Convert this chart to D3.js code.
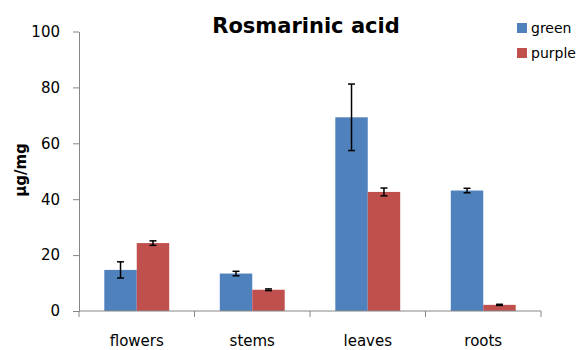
<!DOCTYPE html>
<html>
<head>
<meta charset="utf-8">
<script src="https://cdn.jsdelivr.net/npm/d3@7"></script>
<style>
  body { margin: 0; background: #fff; }
  text { font-family: "DejaVu Sans", Verdana, sans-serif; }
</style>
</head>
<body>
<svg id="chart" width="580" height="350"></svg>
<script>
const categories = ['flowers', 'stems', 'leaves', 'roots'];
const seriesNames = ['green', 'purple'];
const greenValues = [14.7, 13.4, 69.3, 43.1];
const greenErrors = [2.9, 0.8, 11.9, 0.8];
const purpleValues = [24.3, 7.6, 42.6, 2.2];
const purpleErrors = [0.8, 0.3, 1.4, 0.2];
const yTicks = [0, 20, 40, 60, 80, 100];

const colors = { green: '#4f81bd', purple: '#c0504d' };
const svg = d3.select('#chart');

const x = d3.scaleBand().domain(categories).range([79, 541]);
const y = d3.scaleLinear().domain([0, 100]).range([311, 31.5]);
const inner = d3.scaleBand().domain(seriesNames)
  .range([0, x.bandwidth()]).paddingOuter(0.78).paddingInner(0);

const rows = [];
categories.forEach((c, i) => {
  rows.push({ cat: c, s: 'green', v: greenValues[i], e: greenErrors[i] });
  rows.push({ cat: c, s: 'purple', v: purpleValues[i], e: purpleErrors[i] });
});

// axes
const yAxis = svg.append('g').attr('transform', 'translate(79,0)')
  .call(d3.axisLeft(y).tickValues(yTicks).tickSize(6).tickSizeOuter(0));
yAxis.select('.domain').attr('stroke', '#868686');
yAxis.selectAll('.tick line').attr('stroke', '#868686');
yAxis.selectAll('.tick text').attr('font-size', 15).attr('fill', '#000').attr('x', -19);

// bars
svg.append('g').selectAll('rect').data(rows).join('rect')
  .attr('x', d => x(d.cat) + inner(d.s))
  .attr('y', d => y(d.v))
  .attr('width', inner.bandwidth())
  .attr('height', d => y(0) - y(d.v))
  .attr('fill', d => colors[d.s]);

// error bars
const eb = svg.append('g').attr('stroke', '#000').attr('stroke-width', 1.5);
rows.forEach(d => {
  const cx = x(d.cat) + inner(d.s) + inner.bandwidth() / 2;
  eb.append('line').attr('x1', cx).attr('x2', cx).attr('y1', y(d.v + d.e)).attr('y2', y(d.v - d.e));
  [d.v + d.e, d.v - d.e].forEach(v => {
    eb.append('line').attr('x1', cx - 3.5).attr('x2', cx + 3.5).attr('y1', y(v)).attr('y2', y(v));
  });
});

// x axis
const xAxis = svg.append('g').attr('transform', `translate(0,${y(0)})`);
xAxis.append('line').attr('x1', 79).attr('x2', 541).attr('stroke', '#868686');
xAxis.selectAll('line.t').data(categories.map(c => x(c)).concat([x.range()[1]])).join('line')
  .attr('class', 't').attr('x1', d => d).attr('x2', d => d).attr('y1', 0).attr('y2', 6)
  .attr('stroke', '#868686');
xAxis.selectAll('text').data(categories).join('text')
  .attr('x', d => x(d) + x.bandwidth() / 2).attr('y', 35)
  .attr('text-anchor', 'middle').attr('font-size', 15).text(d => d);

// title
svg.append('text').attr('x', 306).attr('y', 33).attr('text-anchor', 'middle')
  .attr('font-size', 21).attr('font-weight', 'bold').text('Rosmarinic acid');

// y label
svg.append('text').attr('transform', 'translate(26,170) rotate(-90)')
  .attr('text-anchor', 'middle').attr('font-size', 15).attr('font-weight', 'bold').text('μg/mg');

// legend
const lg = svg.append('g').attr('transform', 'translate(517,23)');
seriesNames.forEach((s, i) => {
  lg.append('rect').attr('x', 0).attr('y', i * 25).attr('width', 10).attr('height', 10).attr('fill', colors[s]);
  lg.append('text').attr('x', 14).attr('y', i * 25 + 10).attr('font-size', 14).text(s);
});
</script>
</body>
</html>
